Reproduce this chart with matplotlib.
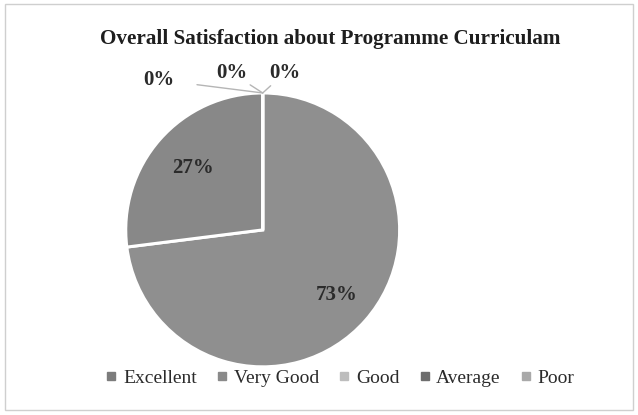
import numpy as np
import matplotlib.pyplot as plt
from matplotlib.lines import Line2D
from matplotlib.patches import Rectangle

categories = ["Excellent", "Very Good", "Good", "Average", "Poor"]
shares = [73, 27, 0, 0, 0]
wedge_colors = ["#8f8f8f", "#888888", "#bdbdbd", "#707070", "#a9a9a9"]
legend_colors = ["#7c7c7c", "#8a8a8a", "#bdbdbd", "#6e6e6e", "#a9a9a9"]

plt.rcParams["font.family"] = ["Liberation Serif", "DejaVu Serif"]

fig = plt.figure(figsize=(6.38, 4.15), dpi=100)
fig.patch.set_facecolor("white")

# light frame round the chart area
fig.patches.append(Rectangle((0.008, 0.012), 0.984, 0.978, transform=fig.transFigure,
                             fill=False, edgecolor="#cfcfcf", linewidth=1.0))

ax = fig.add_axes([0.197, 0.116, 0.4295, 0.660])

wedges, _ = ax.pie(
    shares,
    colors=wedge_colors,
    startangle=90,
    counterclock=False,
    wedgeprops={"edgecolor": "white", "linewidth": 2.2},
)
ax.set_xlim(-1, 1)
ax.set_ylim(-1, 1)
ax.set_aspect("equal")

# inside labels for the non-zero slices
total = sum(shares)
angle = 90.0
for value in shares:
    sweep = 360.0 * value / total
    mid = np.deg2rad(angle - sweep / 2)
    if value > 0:
        r = 0.72 if value > 50 else 0.68
        ax.text(r * np.cos(mid), r * np.sin(mid), f"{value}%",
                ha="center", va="center", fontsize=15, fontweight="bold",
                color="#2b2b2b")
    angle -= sweep

# the three 0% slices all sit at the top of the pie
zero_labels = [(-0.755, 1.095), (-0.226, 1.146), (0.161, 1.146)]
zero_values = [v for v in shares if v == 0]
for (lx, ly), value in zip(zero_labels, zero_values):
    ax.annotate(f"{value}%", xy=(0, 1.0), xytext=(lx, ly),
                ha="center", va="center", fontsize=15, fontweight="bold",
                color="#2b2b2b", annotation_clip=False,
                arrowprops=dict(arrowstyle="-", color="#b5b5b5", lw=1.0,
                                shrinkA=14, shrinkB=0))

fig.text(0.517, 0.905, "Overall Satisfaction about Programme Curriculam",
         ha="center", va="center", fontsize=15.2, fontweight="bold",
         color="#1e1e1e")

handles = [Line2D([], [], marker="s", linestyle="none", markersize=5.5,
                  markerfacecolor=c, markeredgecolor=c) for c in legend_colors]
fig.legend(handles, categories, loc="center", bbox_to_anchor=(0.533, 0.088),
           ncol=5, frameon=False, fontsize=14, handlelength=0.6,
           handletextpad=0.3, columnspacing=1.0, labelcolor="#2b2b2b")

fig.savefig("out.png", dpi=100)
